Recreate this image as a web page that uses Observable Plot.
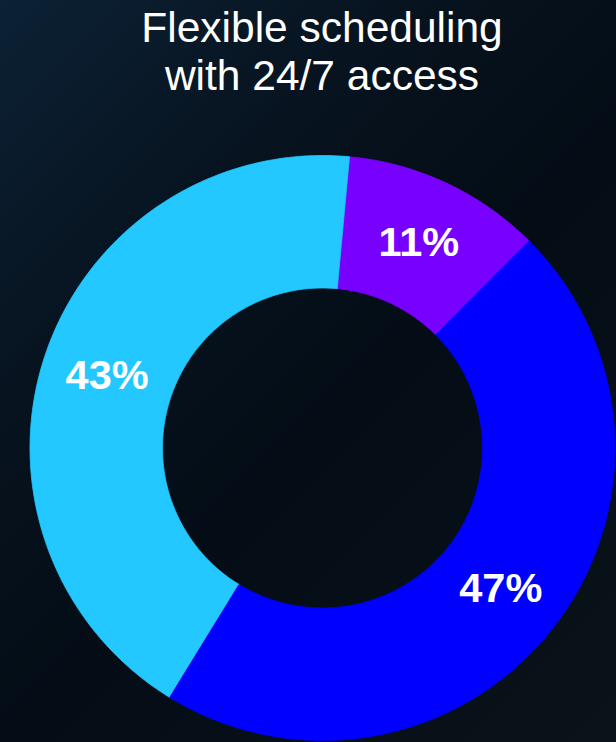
<!DOCTYPE html>
<html>
<head>
<meta charset="utf-8">
<script src="https://cdn.jsdelivr.net/npm/d3@7"></script>
<script src="https://cdn.jsdelivr.net/npm/@observablehq/plot@0.6"></script>
<style>
  html, body { margin: 0; padding: 0; }
  body {
    width: 616px; height: 742px; overflow: hidden;
    background: linear-gradient(135deg, #0c2135 0%, #07131f 30%, #040d16 55%, #0a1319 100%);
    font-family: "Liberation Sans", Arial, sans-serif;
  }
  #title {
    height: 105px; box-sizing: border-box; padding-top: 4px;
    color: #ffffff; font-size: 42.5px; line-height: 48px; text-align: center;
    padding-left: 28px; padding-right: 0;
  }
  #chart svg { display: block; background: transparent; }
</style>
</head>
<body>
<div id="title">Flexible scheduling<br>with 24/7 access</div>
<div id="chart"></div>
<script>
// ---- data ----
const categories = ["Segment A", "Segment B", "Segment C"];
const values = [11, 46.3, 42.7];
const labels = ["11%", "47%", "43%"];
const colors = ["#7700ff", "#0000ff", "#22c8ff"];

// ---- layout ----
const W = 616, H = 637;
const cx = 322, cy = 342.5, R = 292.5, rInner = 160, rLabel = 227;
const startDeg = 5.3;

const pie = d3.pie().sort(null).value(d => d.value)
  .startAngle(startDeg * Math.PI / 180).endAngle((startDeg + 360) * Math.PI / 180);
const rows = categories.map((c, i) => ({category: c, value: values[i], label: labels[i]}));
const arcs = pie(rows);

const k = rInner / R;
const polys = [];
for (const a of arcs) {
  const n = Math.max(2, Math.ceil((a.endAngle - a.startAngle) * 180 / Math.PI));
  for (let j = 0; j <= n; j++) {
    const t = a.startAngle + (a.endAngle - a.startAngle) * j / n;
    polys.push({category: a.data.category, x: Math.sin(t), y: Math.cos(t)});
  }
  for (let j = n; j >= 0; j--) {
    const t = a.startAngle + (a.endAngle - a.startAngle) * j / n;
    polys.push({category: a.data.category, x: k * Math.sin(t), y: k * Math.cos(t)});
  }
}
const lk = rLabel / R;
const labelPts = arcs.map(a => {
  const t = (a.startAngle + a.endAngle) / 2;
  return {category: a.data.category, label: a.data.label, x: lk * Math.sin(t), y: lk * Math.cos(t)};
});

const chart = Plot.plot({
  width: W, height: H,
  margin: 0,
  style: {background: "transparent", overflow: "visible"},
  x: {domain: [-1, 1], range: [cx - R, cx + R], axis: null},
  y: {domain: [-1, 1], range: [cy + R, cy - R], axis: null},
  color: {domain: categories, range: colors},
  marks: [
    Plot.line(polys, {x: "x", y: "y", z: "category", fill: "category", stroke: "category", strokeWidth: 0.8, curve: "linear"}),
    Plot.text(labelPts, {x: "x", y: "y", text: "label", fill: "white", fontSize: 41.5, fontWeight: "bold",
      fontFamily: "Liberation Sans, Arial, sans-serif"})
  ]
});
document.getElementById("chart").appendChild(chart);
</script>
</body>
</html>
